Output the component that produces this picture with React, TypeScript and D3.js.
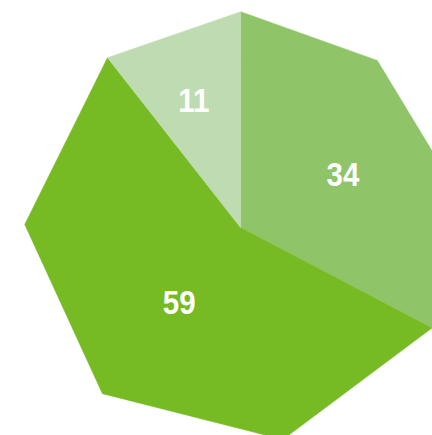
import React from "react";
import * as d3 from "d3";

const categories = ["B", "C", "A"];
const values = [34, 59, 11];
const colors = ["#90C468", "#76BB23", "#BEDBB1"];

const W = 432;
const H = 435;
const CX = 240.7;
const CY = 227.7;
const R = 216;
const MAX_STEP = (52 * Math.PI) / 180;
// label placement (radius as fraction of R) per slice, layout only
const labelRadius = [0.535, 0.445, 0.63];
const labelAngleShift = [0.06, 0.0, -0.02];

export default function App() {
  const pie = d3
    .pie<number>()
    .sort(null)
    .value((d) => d)
    .startAngle(0)
    .endAngle(2 * Math.PI);
  const arcs = pie(values);

  const pt = (a: number, r: number): [number, number] => [
    Math.sin(a) * r,
    -Math.cos(a) * r,
  ];

  const line = d3.line<[number, number]>().curve(d3.curveLinearClosed);

  return (
    <svg
      width={W}
      height={H}
      style={{ position: "absolute", left: 0, top: 0, display: "block" }}
    >
      <g transform={`translate(${CX},${CY})`}>
        {arcs.map((a, i) => {
          const span = a.endAngle - a.startAngle;
          const n = Math.max(1, Math.ceil(span / MAX_STEP));
          const pts: [number, number][] = [[0, 0]];
          for (let k = 0; k <= n; k++) {
            pts.push(pt(a.startAngle + (span * k) / n, R));
          }
          return (
            <path
              key={categories[i]}
              d={line(pts) || ""}
              fill={colors[i]}
              stroke={colors[i]}
              strokeWidth={0.5}
            />
          );
        })}
        {arcs.map((a, i) => {
          const mid = (a.startAngle + a.endAngle) / 2 + labelAngleShift[i];
          const [x, y] = pt(mid, R * labelRadius[i]);
          return (
            <text
              key={"t" + categories[i]}
              transform={`translate(${x},${y}) scale(0.88,1)`}
              textAnchor="middle"
              dy="0.36em"
              fill="#ffffff"
              fontFamily="'Liberation Sans', Arial, sans-serif"
              fontWeight="bold"
              fontSize={33.5}
            >
              {a.data}
            </text>
          );
        })}
      </g>
    </svg>
  );
}
